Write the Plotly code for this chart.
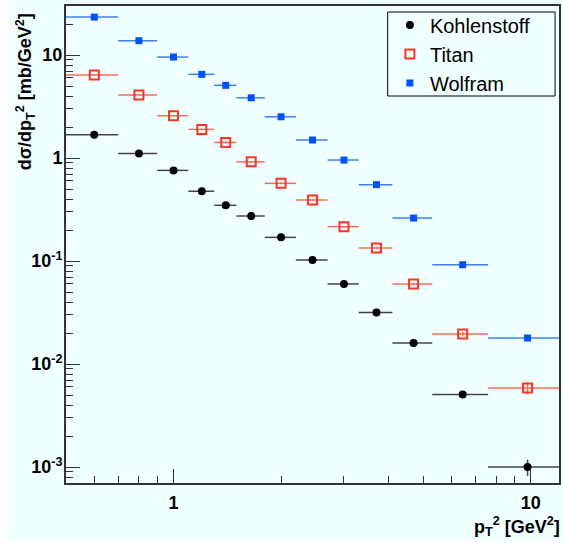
import numpy as np
import plotly.graph_objects as go

# p_T^2 bins [GeV^2]
pt2_lo = [0.5, 0.7, 0.9, 1.1, 1.3, 1.5, 1.8, 2.2, 2.7, 3.3, 4.1, 5.3, 7.6]
pt2_hi = [0.7, 0.9, 1.1, 1.3, 1.5, 1.8, 2.2, 2.7, 3.3, 4.1, 5.3, 7.6, 12.0]
pt2 = [0.6, 0.8, 1.0, 1.2, 1.4, 1.65, 2.0, 2.45, 3.0, 3.7, 4.7, 6.45, 9.8]

# d sigma / d p_T^2 [mb/GeV^2]
kohlenstoff = [1.69, 1.11, 0.76, 0.477, 0.348, 0.274, 0.170, 0.1026, 0.060,
               0.0316, 0.0160, 0.00506, 0.00100]
kohlenstoff_err = [0.03, 0.02, 0.015, 0.01, 0.008, 0.006, 0.004, 0.0025, 0.0015,
                   0.0009, 0.0005, 0.0003, 0.00018]
titan = [6.41, 4.10, 2.58, 1.90, 1.42, 0.92, 0.569, 0.392, 0.216, 0.134,
         0.060, 0.0196, 0.00587]
titan_err = [0.1, 0.07, 0.05, 0.04, 0.03, 0.02, 0.012, 0.009, 0.005, 0.004,
             0.002, 0.001, 0.0008]
wolfram = [23.4, 13.8, 9.58, 6.51, 5.09, 3.85, 2.52, 1.50, 0.958, 0.552,
           0.262, 0.0922, 0.0179]
wolfram_err = [0.4, 0.25, 0.18, 0.12, 0.1, 0.08, 0.05, 0.03, 0.02, 0.012,
               0.007, 0.004, 0.0012]

bg = "#f0ffff"
xplus = [h - c for h, c in zip(pt2_hi, pt2)]
xminus = [c - l for c, l in zip(pt2, pt2_lo)]

series = [
    ("Kohlenstoff", kohlenstoff, kohlenstoff_err, "#444444",
     dict(symbol="circle", size=8, color="black")),
    ("Titan", titan, titan_err, "#ff6a5a",
     dict(symbol="square-open", size=9, color="#ff3322", line=dict(width=2, color="#ff3322"))),
    ("Wolfram", wolfram, wolfram_err, "#3f80f0",
     dict(symbol="square", size=7, color="#0050ff")),
]

fig = go.Figure()
for name, vals, errs, lcol, mk in series:
    fig.add_trace(go.Scatter(
        x=pt2, y=vals, mode="markers", name=name, marker=mk,
        error_x=dict(type="data", symmetric=False, array=xplus, arrayminus=xminus,
                     width=0, thickness=1.5, color=lcol),
        error_y=dict(type="data", array=errs, width=0, thickness=1.5, color=lcol),
    ))

xminor = [0.6, 0.7, 0.8, 0.9] + list(range(2, 10))
yminor = [m * 10.0 ** e for e in range(-4, 2) for m in range(2, 10)]

font_b = dict(family="Liberation Sans, Arial", size=18, color="black", weight="bold")

fig.update_xaxes(
    type="log", range=[np.log10(0.5), np.log10(12)],
    tickvals=[1, 10], ticktext=["1", "10"], ticks="inside", ticklen=14,
    tickwidth=1, tickcolor="#333", tickfont=font_b, ticklabelstandoff=2,
    minor=dict(tickvals=xminor, ticks="inside", ticklen=7, tickcolor="#333", tickwidth=1),
    showline=True, linecolor="#333", linewidth=2, mirror=True,
    showgrid=False, zeroline=False,
)
fig.update_yaxes(
    type="log", range=[np.log10(7e-4), np.log10(30)],
    tickvals=[1e-3, 1e-2, 1e-1, 1, 10],
    ticktext=["10<sup>-3</sup>", "10<sup>-2</sup>", "10<sup>-1</sup>", "1", "10"],
    ticks="inside", ticklen=14, tickwidth=1, tickcolor="#333", tickfont=font_b,
    ticklabelstandoff=-2,
    minor=dict(tickvals=yminor, ticks="inside", ticklen=7, tickcolor="#333", tickwidth=1),
    showline=True, linecolor="#333", linewidth=2, mirror=True,
    showgrid=False, zeroline=False,
)

fig.update_layout(
    width=563, height=543,
    margin=dict(l=66, r=2, t=6, b=60),
    paper_bgcolor=bg, plot_bgcolor=bg,
    showlegend=True,
    legend=dict(x=0.657, y=1.001, xanchor="left", yanchor="top",
                bgcolor="rgba(0,0,0,0)", borderwidth=0,
                font=dict(family="Liberation Sans, Arial", size=20, color="black")),
    shapes=[
        # legend frame
        dict(type="rect", xref="paper", yref="paper", x0=0.6525, x1=0.992,
             y0=0.8113, y1=0.9874, line=dict(color="black", width=1),
             fillcolor=bg, layer="above"),
        # white strips at the canvas edges
        dict(type="rect", xref="paper", yref="paper", x0=-0.1333, x1=-0.1152,
             y0=-0.1258, y1=1.0126, line=dict(width=0), fillcolor="white"),
        dict(type="rect", xref="paper", yref="paper", x0=-0.1333, x1=1.004,
             y0=-0.1258, y1=-0.1216, line=dict(width=0), fillcolor="white"),
    ],
    annotations=[
        dict(text="dσ/dp<sub>T</sub><sup>2</sup> [mb/GeV<sup>2</sup>]",
             textangle=-90, xref="paper", yref="paper", x=-0.083, y=0.988,
             xanchor="center", yanchor="top", showarrow=False, font=font_b),
        dict(text="p<sub>T</sub><sup>2</sup> [GeV<sup>2</sup>]",
             xref="paper", yref="paper", x=1.006, y=-0.06,
             xanchor="right", yanchor="top", showarrow=False, font=font_b),
    ],
)

fig.write_html("out.html", config={"displayModeBar": False},
               post_script="document.body.style.margin='0';")
